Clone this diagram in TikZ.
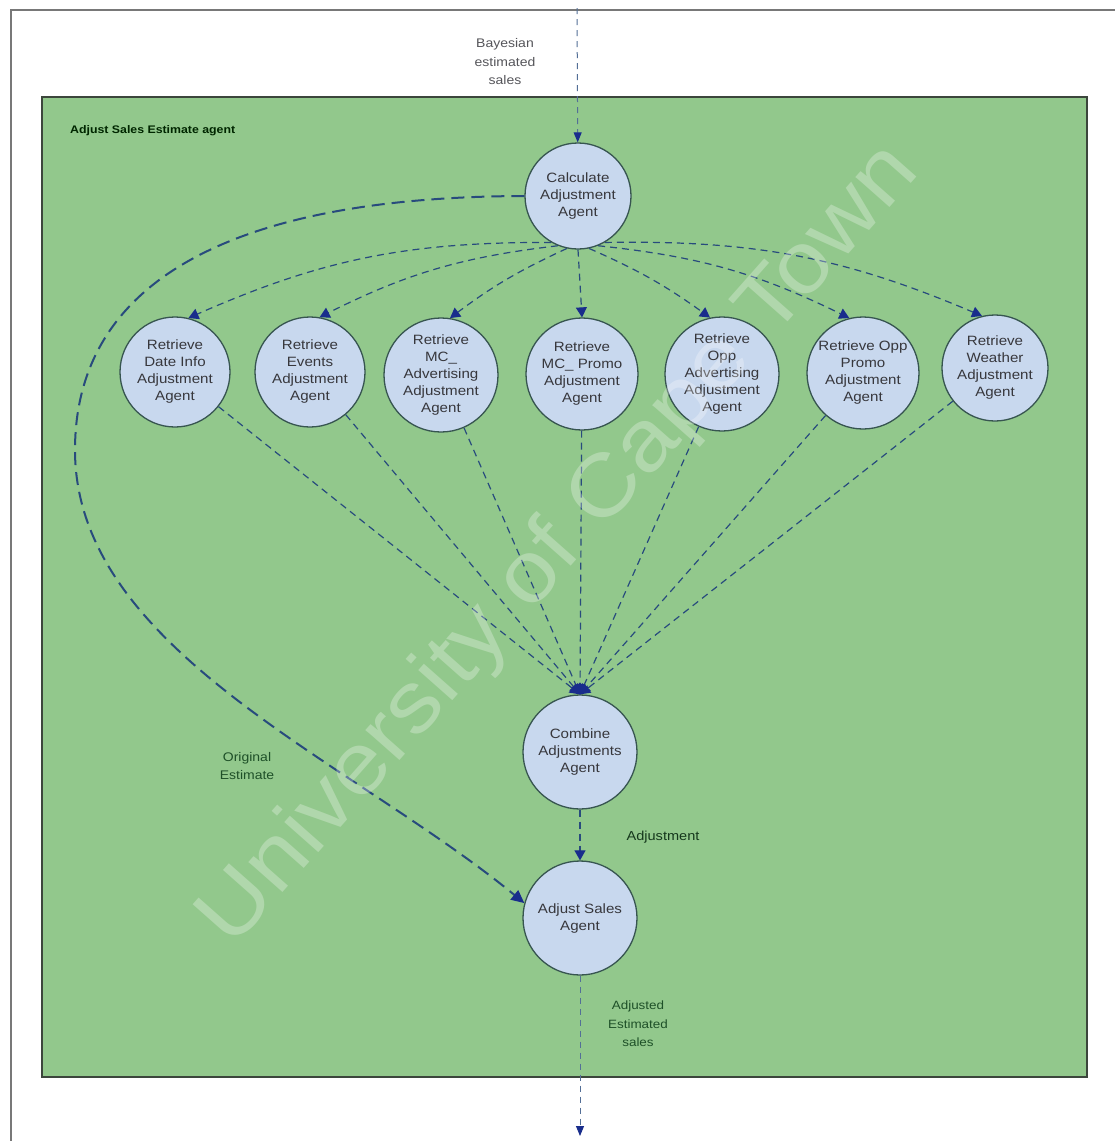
\documentclass[tikz,border=0pt]{standalone}
\usepackage{fontspec}
\setmainfont{Liberation Sans}[FakeStretch=1.12]
\usetikzlibrary{arrows.meta}

\definecolor{panelgreen}{RGB}{146,200,140}
\definecolor{panelline}{RGB}{60,70,60}
\definecolor{outerline}{RGB}{120,120,120}
\definecolor{circlefill}{RGB}{200,216,238}
\definecolor{circleline}{RGB}{55,85,80}
\definecolor{agenttext}{RGB}{55,55,60}
\definecolor{flowline}{RGB}{40,75,125}
\definecolor{tipblue}{RGB}{25,45,140}
\definecolor{labelgreen}{RGB}{30,80,40}
\definecolor{labelgray}{RGB}{85,85,90}

\begin{document}
\begin{tikzpicture}[x=1pt,y=-1pt,
  agent/.style={circle, draw=circleline, fill=circlefill, line width=1.3pt,
    minimum size=110pt, inner sep=0pt, align=center, text=agenttext,
    font=\fontsize{13.5}{17}\selectfont},
  flow/.style={draw=flowline, line width=1.2pt, dash pattern=on 7pt off 5pt,
    -{Triangle[length=10pt,width=11pt,color=tipblue]}},
  bigflow/.style={draw=flowline, line width=2pt, dash pattern=on 13pt off 7pt,
    -{Triangle[length=13pt,width=12pt,color=tipblue]}},
  thinflow/.style={draw=flowline!80!white, line width=1pt, dash pattern=on 6pt off 5pt,
    -{Triangle[length=10pt,width=8pt,color=tipblue]}},
  lbl/.style={align=center, inner sep=0pt},
]
\useasboundingbox (0,0) rectangle (1115,1141);
\fill[white] (0,0) rectangle (1115,1141);

\begin{scope}
  \clip (0,0) rectangle (1115,1141);
  % page frame
  \draw[outerline, line width=2.5pt] (11,10) rectangle (1135,1165);
\end{scope}

% agent container
\draw[panelline, line width=1.5pt, fill=panelgreen] (42,97) rectangle (1087,1077);
\node[lbl, anchor=west, text=black!85!green, font=\bfseries\fontsize{11}{13}\selectfont]
  (title) at (70,131) {Adjust Sales Estimate agent};

% agents
\node[agent, minimum size=106pt] (calc) at (578,196) {Calculate\\Adjustment\\Agent};

\node[agent] (r1) at (175,372) {Retrieve\\Date Info\\Adjustment\\Agent};
\node[agent] (r2) at (310,372) {Retrieve\\Events\\Adjustment\\Agent};
\node[agent, minimum size=114pt] (r3) at (441,375) {Retrieve\\MC\_\\Advertising\\Adjustment\\Agent};
\node[agent, minimum size=112pt] (r4) at (582,374) {Retrieve\\MC\_ Promo\\Adjustment\\Agent};
\node[agent, minimum size=114pt] (r5) at (722,374) {Retrieve\\Opp\\Advertising\\Adjustment\\Agent};
\node[agent, minimum size=112pt] (r6) at (863,373) {Retrieve Opp\\Promo\\Adjustment\\Agent};
\node[agent, minimum size=106pt] (r7) at (995,368) {Retrieve\\Weather\\Adjustment\\Agent};

\node[agent, minimum size=114pt] (comb) at (580,752) {Combine\\Adjustments\\Agent};
\node[agent, minimum size=114pt] (adj) at (580,918) {Adjust Sales\\Agent};

% input and output
\coordinate (src) at (577,8);
\coordinate (sink) at (580,1136);
\node[lbl, text=labelgray, font=\fontsize{12.5}{18.5}\selectfont] (bayes) at (505,62)
  {Bayesian\\estimated\\sales};
\draw[thinflow] (src) -- (calc);
\draw[thinflow] (adj) -- (sink);
\node[lbl, text=labelgreen, font=\fontsize{12}{18.5}\selectfont] (outlbl) at (638,1024)
  {Adjusted\\Estimated\\sales};

% requests to the retrieve agents
\draw[flow] (calc.240) to[bend right=12] (r1.76);
\draw[flow] (calc.248) to[bend right=10] (r2.80);
\draw[flow] (calc.258) to[bend right=6] (r3.81);
\draw[flow] (calc.south) -- (r4.north);
\draw[flow] (calc.282) to[bend left=6] (r5.102);
\draw[flow] (calc.292) to[bend left=10] (r6.104);
\draw[flow] (calc.300) to[bend left=12] (r7.104);

% adjustments collected by the combine agent
\foreach \r in {r1,r2,r3,r4,r5,r6,r7}
  \draw[flow] (\r) -- (comb.north);

\draw[flow] (comb) -- (adj);
\node[lbl, text=labelgreen!70!black, font=\fontsize{13}{16}\selectfont] (adjlbl) at (663,837) {Adjustment};

% original estimate passed straight through
\draw[bigflow] (calc.west) .. controls (200,197) and (75,300) .. (75,450)
  .. controls (75,650) and (350,760) .. (adj.165);
\node[lbl, text=labelgreen, font=\fontsize{12.5}{18}\selectfont] (orig) at (247,766)
  {Original\\Estimate};

% watermark
\node[text=white, opacity=0.28, rotate=48.5, inner sep=0pt,
  font=\fontsize{86}{90}\selectfont] (wm) at (560,546) {University of Cape Town};
\end{tikzpicture}
\end{document}
